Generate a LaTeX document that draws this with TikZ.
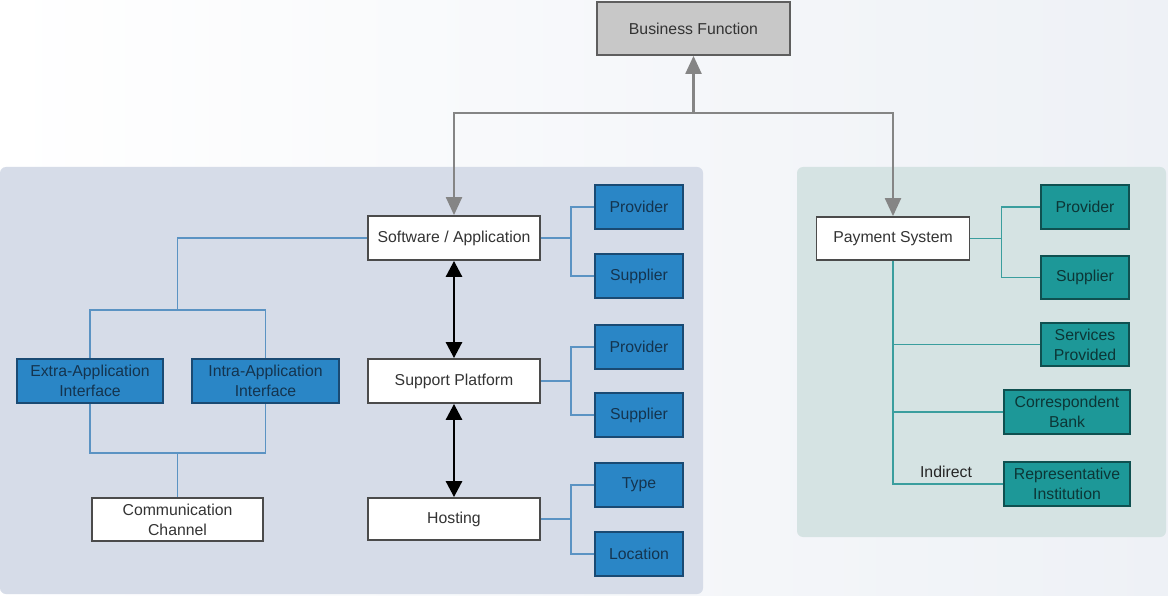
\documentclass[tikz,border=0pt]{standalone}
\usepackage{fontspec}
\setmainfont{Liberation Sans}
\usetikzlibrary{arrows.meta}

\definecolor{panelL}{HTML}{D6DCE8}
\definecolor{panelR}{HTML}{D5E3E3}
\definecolor{boxblue}{HTML}{2A86C6}
\definecolor{edgeblue}{HTML}{1A4A73}
\definecolor{txtblue}{HTML}{14344F}
\definecolor{boxteal}{HTML}{1D9898}
\definecolor{edgeteal}{HTML}{0F5050}
\definecolor{txtteal}{HTML}{0C3636}
\definecolor{boxgray}{HTML}{C8C8C8}
\definecolor{edgegray}{HTML}{5E5E5E}
\definecolor{linkblue}{HTML}{5B93C3}
\definecolor{linkteal}{HTML}{3A9E9E}
\definecolor{linkgray}{HTML}{858585}
\definecolor{bgright}{HTML}{EEF1F6}

\pgfdeclarelayer{links}
\pgfsetlayers{links,main}

\begin{document}
\begin{tikzpicture}[x=1pt,y=-1pt,
  base/.style={line width=1.8pt, inner sep=0pt, align=center,
    font=\fontsize{15.8}{20}\selectfont},
  whitebox/.style={base, draw=edgegray!80!black, fill=white, text=black!80},
  bluebox/.style={base, draw=edgeblue, fill=boxblue, text=txtblue},
  tealbox/.style={base, draw=edgeteal, fill=boxteal, text=txtteal},
  graybox/.style={base, draw=edgegray, fill=boxgray, text=black!80},
  bluelink/.style={draw=linkblue, line width=1.6pt},
  teallink/.style={draw=linkteal, line width=1.6pt},
  graylink/.style={draw=linkgray, line width=2.2pt,
    -{Triangle[length=18pt,width=16pt]}},
  dbllink/.style={draw=black, line width=2.8pt,
    {Triangle[length=16pt,width=16pt]}-{Triangle[length=16pt,width=16pt]}},
]
% canvas and panels
\begin{pgfonlayer}{links}
\shade[left color=white, right color=bgright] (0,0) rectangle (1168,596);
\fill[panelL, rounded corners=6pt] (0,167) rectangle (703,594);
\fill[panelR, rounded corners=6pt] (797,167) rectangle (1166,537);
\end{pgfonlayer}
\useasboundingbox (0,0) rectangle (1168,596);

% top node
\node[graybox, minimum width=193pt, minimum height=53pt] (biz) at (693.5,28.5) {Business Function};

% application stack
\node[whitebox, minimum width=172pt, minimum height=44pt] (sw) at (454,238) {Software / Application};
\node[whitebox, minimum width=172pt, minimum height=44pt] (sp) at (454,381) {Support Platform};
\node[whitebox, minimum width=172pt, minimum height=42pt] (host) at (454,519) {Hosting};

\node[bluebox, minimum width=88pt, minimum height=44pt] (prov1) at (639,207) {Provider};
\node[bluebox, minimum width=88pt, minimum height=44pt] (sup1) at (639,276) {Supplier};
\node[bluebox, minimum width=88pt, minimum height=44pt] (prov2) at (639,347) {Provider};
\node[bluebox, minimum width=88pt, minimum height=44pt] (sup2) at (639,415) {Supplier};
\node[bluebox, minimum width=88pt, minimum height=44pt] (type) at (639,485) {Type};
\node[bluebox, minimum width=88pt, minimum height=44pt] (loc) at (639,554) {Location};

% interfaces
\node[bluebox, minimum width=146pt, minimum height=44pt] (extra) at (90,381) {Extra-Application\\Interface};
\node[bluebox, minimum width=147pt, minimum height=44pt] (intra) at (265.5,381) {Intra-Application\\Interface};
\node[whitebox, minimum width=171pt, minimum height=43pt] (comm) at (177.5,519.5) {Communication\\Channel};

% payment system
\node[whitebox, minimum width=153pt, minimum height=43pt] (ps) at (893,238.5) {Payment System};
\node[tealbox, minimum width=88pt, minimum height=44pt] (prov3) at (1085,207) {Provider};
\node[tealbox, minimum width=88pt, minimum height=43pt] (sup3) at (1085,277.5) {Supplier};
\node[tealbox, minimum width=88pt, minimum height=43pt] (serv) at (1085,344.5) {Services\\Provided};
\node[tealbox, minimum width=126pt, minimum height=44pt] (corr) at (1067,412) {Correspondent\\Bank};
\node[tealbox, minimum width=126pt, minimum height=44pt] (rep) at (1067,484) {Representative\\Institution};

% links to the business function
\coordinate (bus) at (693.5,113);
\draw[graylink] (bus) -- (biz.south);
\draw[graylink] (bus) -| (sw.north);
\draw[graylink] (bus) -| (ps.north);

% stack arrows
\draw[dbllink] (sw.south) -- (sp.north);
\draw[dbllink] (sp.south) -- (host.north);

\begin{pgfonlayer}{links}
% right-hand forks of the stack
\draw[bluelink] (sw.east) -- ++(30,0) coordinate (f1);
\draw[bluelink] (f1) |- (prov1.west);
\draw[bluelink] (f1) |- (sup1.west);
\draw[bluelink] (sp.east) -- ++(30,0) coordinate (f2);
\draw[bluelink] (f2) |- (prov2.west);
\draw[bluelink] (f2) |- (sup2.west);
\draw[bluelink] (host.east) -- ++(30,0) coordinate (f3);
\draw[bluelink] (f3) |- (type.west);
\draw[bluelink] (f3) |- (loc.west);

% interface tree
\coordinate (ifork) at (177.5,310);
\coordinate (ofork) at (177.5,453);
\draw[bluelink] (sw.west) -| (ifork);
\draw[bluelink] (extra.north) |- (ifork) -| (intra.north);
\draw[bluelink] (extra.south) |- (ofork) -| (intra.south);
\draw[bluelink] (ofork) -- (comm.north);

% payment system links
\draw[teallink] (ps.east) -- ++(31,0) coordinate (f4);
\draw[teallink] (f4) |- (prov3.west);
\draw[teallink] (f4) |- (sup3.west);
\draw[teallink] (ps.south) |- (rep.west);
\draw[teallink] (ps.south |- serv.west) -- (serv.west);
\draw[teallink] (ps.south |- corr.west) -- (corr.west);
\end{pgfonlayer}
\node[font=\fontsize{15.8}{20}\selectfont, text=black!85, inner sep=0pt] (ind) at (946,472) {Indirect};
\end{tikzpicture}
\end{document}
